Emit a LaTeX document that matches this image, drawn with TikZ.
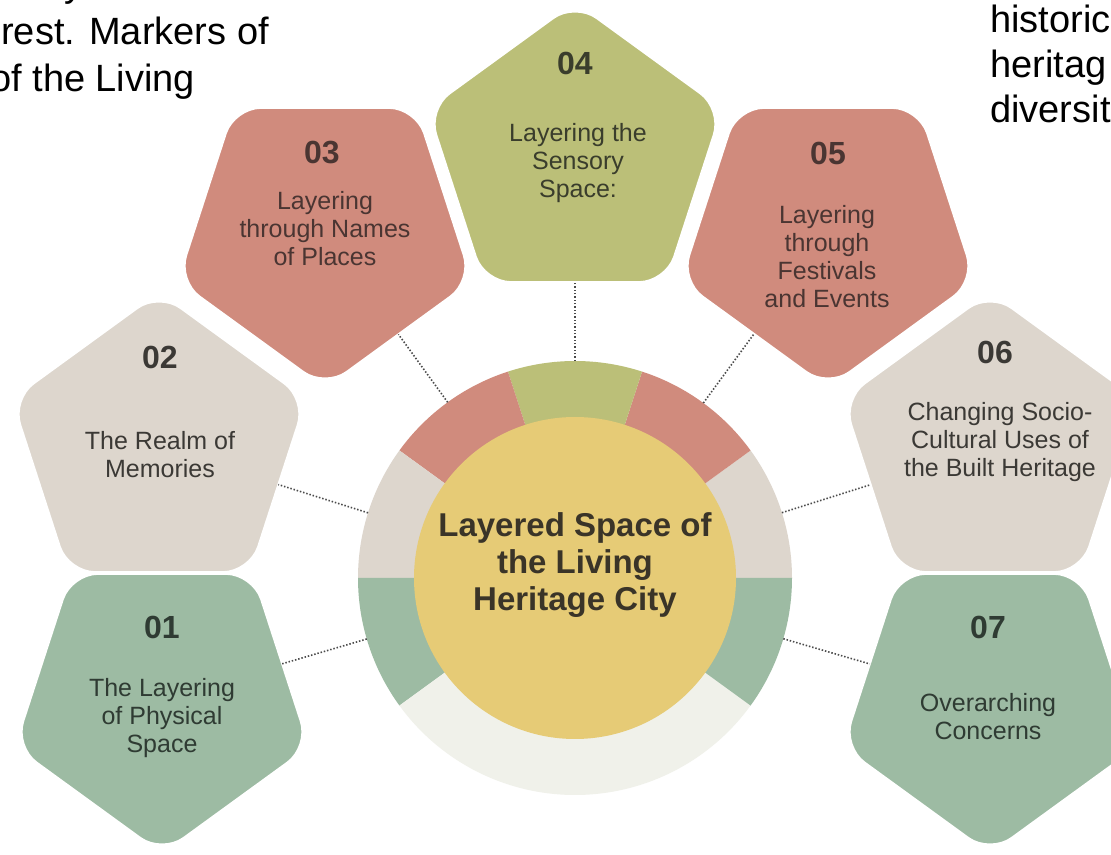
\documentclass[tikz,border=0pt]{standalone}
\usepackage{fontspec}
\setmainfont{Liberation Sans}
\usetikzlibrary{shapes.geometric,calc}
\definecolor{cRed}{HTML}{D08B7D}
\definecolor{cOlive}{HTML}{BBBF78}
\definecolor{cBeige}{HTML}{DDD6CD}
\definecolor{cGreen}{HTML}{9DBBA3}
\definecolor{cPale}{HTML}{F0F1EA}
\definecolor{cYellow}{HTML}{E6CB76}
\definecolor{cText}{HTML}{3B3935}
\definecolor{cTextG}{HTML}{2F3B33}
\definecolor{cTextR}{HTML}{4A3532}
\definecolor{cTextO}{HTML}{3A3D2C}
\definecolor{cCore}{HTML}{3A3428}
\definecolor{cDot}{HTML}{4A4A4A}
\begin{document}
\begin{tikzpicture}[x=0.75pt,y=0.75pt,
  penta/.style={regular polygon, regular polygon sides=5, minimum size=232pt,
    inner sep=0pt, outer sep=0pt, rounded corners=20pt, draw=white, line width=1.5pt},
  pentup/.style={penta},
  pentdown/.style={penta, shape border rotate=180},
  num/.style={font=\fontsize{24}{28}\selectfont\bfseries, inner sep=0pt},
  lab/.style={font=\fontsize{18.75}{21}\selectfont, align=center, inner sep=0pt},
  conn/.style={draw=cDot, line width=1.2pt, dash pattern=on 1.1pt off 1.4pt},
  side/.style={font=\fontsize{28.5}{34}\selectfont, text=black, inner sep=0pt, anchor=base west}]
\useasboundingbox (0,0) rectangle (1111,854);
\begin{scope}
\clip (0,0) rectangle (1111,854);
\fill[white] (0,0) rectangle (1111,854);

% ring
\coordinate (C) at (575,276);
\foreach \a/\b/\c in {0/36/cBeige, 36/72/cRed, 72/108/cOlive, 108/144/cRed,
                      144/180/cBeige, 180/216/cGreen, 216/324/cPale, 324/360/cGreen}
  \fill[\c] (C) -- ++(\a:217) arc[start angle=\a, end angle=\b, radius=217] -- cycle;
\node[circle, fill=cYellow, minimum size=241.5pt, inner sep=0pt] (core) at (C) {};
\node[font=\fontsize{24.75}{27.75}\selectfont\bfseries, align=center, text=cCore, inner sep=0pt]
  (title) at (575,289) {Layered Space of\\the Living\\Heritage City};

% pentagons
\node[pentup,   fill=cOlive] (p4) at (575,697) {};
\node[pentdown, fill=cRed]   (p3) at (325,621) {};
\node[pentdown, fill=cRed]   (p5) at (828,621) {};
\node[pentup,   fill=cBeige] (p2) at (159,407) {};
\node[pentup,   fill=cBeige] (p6) at (990,407) {};
\node[pentdown, fill=cGreen] (p1) at (162,155) {};
\node[pentdown, fill=cGreen] (p7) at (990,155) {};

% numbers and labels
\node[num, text=cTextO] (n4) at (575,791) {04};
\node[lab, text=cTextO] (t4) at (578,691) {Layering the\\Sensory\\Space:};
\node[num, text=cTextR] (n3) at (322,701) {03};
\node[lab, text=cTextR] (t3) at (325,625) {Layering\\through Names\\of Places};
\node[num, text=cTextR] (n5) at (828,701) {05};
\node[lab, text=cTextR] (t5) at (827,597) {Layering\\through\\Festivals\\and Events};
\node[num, text=cText] (n2) at (160,497) {02};
\node[lab, text=cText] (t2) at (160,399) {The Realm of\\Memories};
\node[num, text=cText] (n6) at (995,502) {06};
\node[lab, text=cText] (t6) at (1000,412) {Changing Socio-\\Cultural Uses of\\the Built Heritage};
\node[num, text=cTextG] (n1) at (162,227) {01};
\node[lab, text=cTextG] (t1) at (162,136) {The Layering\\of Physical\\Space};
\node[num, text=cTextG] (n7) at (988,227) {07};
\node[lab, text=cTextG] (t7) at (988,137) {Overarching\\Concerns};

% connectors
\foreach \i in {1,...,7} {
  \coordinate (r\i) at ($(C)!162.75pt!(p\i)$);
  \draw[conn] (r\i) -- (p\i);
}

% cut-off side texts
\node[side] (tl0) at (64,857) {y};
\node[side] (tl1) at (1,809) {rest. Markers of};
\node[side] (tl2) at (-10,762) {of the Living};
\node[side] (tr1) at (990,821) {historic};
\node[side] (tr2) at (990,776) {heritag};
\node[side] (tr3) at (990,731) {diversit};
\end{scope}
\end{tikzpicture}
\end{document}
